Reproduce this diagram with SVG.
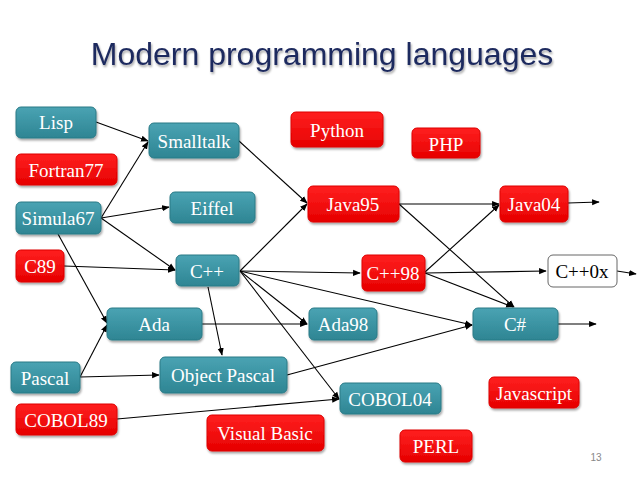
<svg xmlns="http://www.w3.org/2000/svg" width="638" height="478" viewBox="0 0 638 478">
<defs>
<linearGradient id="gt" x1="0" y1="0" x2="0" y2="1"><stop offset="0" stop-color="#4aa3b3"/><stop offset="1" stop-color="#2e8593"/></linearGradient>
<linearGradient id="gr" x1="0" y1="0" x2="0" y2="1"><stop offset="0" stop-color="#ff2020"/><stop offset="1" stop-color="#e60000"/></linearGradient>
<filter id="sh" x="-10%" y="-10%" width="130%" height="140%"><feDropShadow dx="1" dy="2" stdDeviation="1.2" flood-opacity="0.35"/></filter>
<marker id="a" viewBox="0 0 10 10" refX="9" refY="5" markerWidth="7" markerHeight="7" orient="auto"><path d="M0,1 L10,5 L0,9 z" fill="#000"/></marker>
</defs>
<style>
.t rect{fill:url(#gt);stroke:#2a7a86;stroke-width:1;filter:url(#sh)}
.r rect{fill:url(#gr);stroke:#d00;stroke-width:1;filter:url(#sh)}
.w rect{fill:#fff;stroke:#666;stroke-width:1}
.n text{font-size:19px;fill:#fff;text-anchor:middle;dominant-baseline:central}
.w text{fill:#000}
#edges line{stroke:#000;stroke-width:1.1;marker-end:url(#a)}
</style>
<rect width="638" height="478" fill="#fff"/>
<text x="322" y="54" font-family="Liberation Sans, Arial, sans-serif" font-size="32" fill="#1f2a5e" text-anchor="middle" dominant-baseline="central" filter="url(#sh)">Modern programming languages</text>
<text x="596" y="457" font-family="Liberation Sans, Arial, sans-serif" font-size="10" fill="#888" text-anchor="middle" dominant-baseline="central">13</text>
<g id="edges">
<line x1="96" y1="122" x2="148" y2="141"/>
<line x1="101" y1="218" x2="148" y2="142"/>
<line x1="101" y1="218" x2="169" y2="207"/>
<line x1="101" y1="218" x2="175" y2="270"/>
<line x1="58" y1="234" x2="107" y2="323"/>
<line x1="64" y1="266" x2="175" y2="270"/>
<line x1="239" y1="141" x2="307" y2="203"/>
<line x1="240" y1="271" x2="307" y2="204"/>
<line x1="240" y1="271" x2="360" y2="273"/>
<line x1="240" y1="271" x2="307" y2="324"/>
<line x1="240" y1="271" x2="339" y2="399"/>
<line x1="240" y1="271" x2="472" y2="325"/>
<line x1="208" y1="287" x2="222" y2="355"/>
<line x1="202" y1="324" x2="307" y2="324"/>
<line x1="80" y1="377" x2="107" y2="325"/>
<line x1="80" y1="377" x2="159" y2="375"/>
<line x1="287" y1="375" x2="472" y2="325"/>
<line x1="117" y1="419" x2="339" y2="399"/>
<line x1="399" y1="204" x2="499" y2="204"/>
<line x1="399" y1="204" x2="514" y2="307"/>
<line x1="425" y1="272" x2="499" y2="205"/>
<line x1="425" y1="273" x2="546" y2="271"/>
<line x1="425" y1="273" x2="513" y2="307"/>
<line x1="568" y1="203" x2="599" y2="202"/>
<line x1="617" y1="271" x2="636" y2="274"/>
<line x1="558" y1="324" x2="596" y2="324"/>
</g>
<g font-family="Liberation Serif, Times New Roman, serif">
<g id="lisp" class="n t"><rect x="16" y="107" width="80" height="31" rx="5"/><text x="56" y="122">Lisp</text></g>
<g id="smalltalk" class="n t"><rect x="149" y="123" width="90" height="35" rx="5"/><text x="194" y="141">Smalltalk</text></g>
<g id="fortran77" class="n r"><rect x="16" y="154" width="101" height="31" rx="5"/><text x="66" y="170">Fortran77</text></g>
<g id="simula67" class="n t"><rect x="16" y="202" width="85" height="32" rx="5"/><text x="58" y="218">Simula67</text></g>
<g id="eiffel" class="n t"><rect x="170" y="192" width="85" height="31" rx="5"/><text x="212" y="208">Eiffel</text></g>
<g id="c89" class="n r"><rect x="16" y="250" width="48" height="32" rx="5"/><text x="40" y="266">C89</text></g>
<g id="cpp" class="n t"><rect x="176" y="255" width="63" height="31" rx="5"/><text x="207" y="271">C++</text></g>
<g id="python" class="n r"><rect x="291" y="112" width="92" height="35" rx="5"/><text x="337" y="130">Python</text></g>
<g id="php" class="n r"><rect x="412" y="128" width="68" height="30" rx="5"/><text x="446" y="144">PHP</text></g>
<g id="java95" class="n r"><rect x="308" y="186" width="91" height="36" rx="5"/><text x="353" y="204">Java95</text></g>
<g id="java04" class="n r"><rect x="500" y="186" width="68" height="36" rx="5"/><text x="534" y="204">Java04</text></g>
<g id="cpp98" class="n r"><rect x="362" y="255" width="63" height="36" rx="5"/><text x="393" y="273">C++98</text></g>
<g id="cpp0x" class="n w"><rect x="548" y="255" width="69" height="32" rx="5"/><text x="582" y="271">C++0x</text></g>
<g id="ada" class="n t"><rect x="107" y="308" width="95" height="32" rx="5"/><text x="154" y="324">Ada</text></g>
<g id="ada98" class="n t"><rect x="309" y="308" width="68" height="32" rx="5"/><text x="343" y="324">Ada98</text></g>
<g id="csharp" class="n t"><rect x="473" y="308" width="85" height="32" rx="5"/><text x="515" y="324">C#</text></g>
<g id="pascal" class="n t"><rect x="11" y="362" width="69" height="31" rx="5"/><text x="45" y="378">Pascal</text></g>
<g id="objectpascal" class="n t"><rect x="160" y="357" width="127" height="36" rx="5"/><text x="223" y="375">Object Pascal</text></g>
<g id="cobol89" class="n r"><rect x="16" y="404" width="101" height="31" rx="5"/><text x="66" y="420">COBOL89</text></g>
<g id="cobol04" class="n t"><rect x="340" y="383" width="101" height="31" rx="5"/><text x="390" y="399">COBOL04</text></g>
<g id="visualbasic" class="n r"><rect x="207" y="415" width="117" height="36" rx="5"/><text x="265" y="433">Visual Basic</text></g>
<g id="javascript" class="n r"><rect x="489" y="377" width="90" height="31" rx="5"/><text x="534" y="393">Javascript</text></g>
<g id="perl" class="n r"><rect x="400" y="430" width="72" height="32" rx="5"/><text x="436" y="446">PERL</text></g>
</g>
</svg>
